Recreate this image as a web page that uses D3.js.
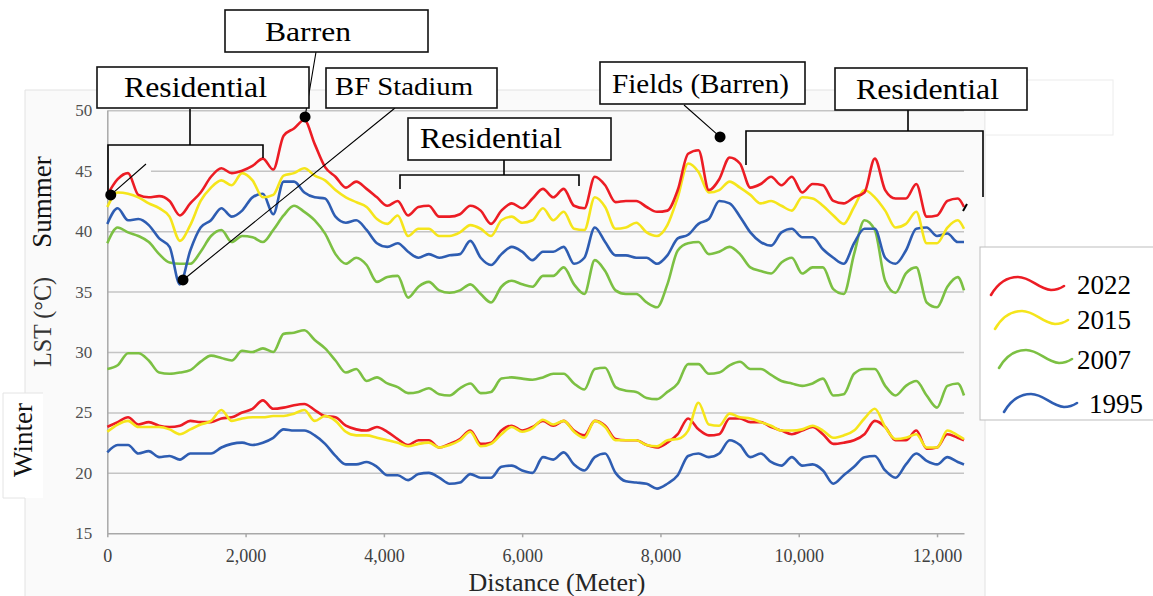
<!DOCTYPE html>
<html>
<head>
<meta charset="utf-8">
<script src="https://cdn.jsdelivr.net/npm/d3@7"></script>
<style>
  html, body { margin: 0; padding: 0; background: #ffffff; }
  svg { display: block; font-family: "Liberation Serif", "Times New Roman", serif; }
</style>
</head>
<body>
<svg id="chart" width="1153" height="596"></svg>
<script>
// Sample positions along the transect (metres)
const distance = d3.range(0, 12301, 150).concat([12390]);

// Summer land surface temperature (°C)
const summer2022 = [43.0,44.3,44.8,43.0,42.8,42.9,42.5,41.3,42.3,43.2,
  44.5,45.2,44.8,45.0,45.4,46.0,45.1,47.9,48.5,49.2,
  47.2,45.3,44.5,43.6,44.1,43.5,42.8,42.1,42.5,41.3,
  42.0,42.1,41.2,41.2,41.4,42.1,41.7,40.6,41.7,42.3,
  41.9,42.7,43.5,42.8,43.5,42.1,41.9,44.5,43.8,42.4,
  42.5,42.5,42.0,41.6,41.7,43.4,46.4,46.7,43.4,44.3,
  46.1,45.6,43.6,43.9,44.5,43.8,44.5,43.2,43.9,43.8,
  42.5,42.3,42.8,43.2,46.0,43.4,42.7,42.7,43.9,41.2,
  41.3,42.5,42.7,42.0];
const summer2015 = [42.0,43.2,43.1,42.8,42.3,41.9,41.2,39.2,40.5,42.5,
  43.6,44.2,43.8,44.8,44.2,42.8,43.0,44.6,44.8,45.2,
  44.6,44.2,43.4,42.8,42.4,42.0,41.0,40.6,41.3,39.6,
  40.2,40.2,39.6,39.6,39.9,40.5,40.2,39.6,40.9,41.2,
  40.7,40.9,41.9,40.9,41.6,40.2,40.1,42.8,42.0,40.2,
  40.3,40.7,39.9,39.6,40.5,42.8,45.6,44.9,43.2,43.4,
  44.1,43.6,43.0,42.3,42.5,42.1,41.7,42.8,42.7,42.1,
  41.3,40.6,42.0,43.4,42.8,41.7,40.3,40.6,41.6,39.0,
  39.0,40.3,40.9,40.2];
const summer2007 = [39.0,40.3,39.9,39.6,39.1,38.1,37.4,37.3,37.3,38.3,
  39.6,40.1,39.1,39.6,39.5,39.1,40.1,41.3,42.1,41.6,
  40.9,39.8,38.1,37.3,37.8,37.2,35.8,36.2,36.3,34.5,
  35.4,35.8,35.1,34.9,35.1,35.6,34.8,34.1,35.4,35.9,
  35.6,35.4,36.3,36.3,37.0,35.6,34.8,37.6,36.7,35.1,
  34.8,34.8,34.1,33.7,35.6,38.4,39.0,39.1,38.1,38.3,
  38.7,38.1,37.0,36.7,36.5,37.4,37.8,36.5,37.0,37.0,
  35.2,34.8,38.1,40.9,40.1,35.9,34.9,36.5,37.0,34.1,
  33.7,35.4,36.2,35.1];
const summer1995 = [40.6,41.9,40.9,41.0,40.5,39.4,38.7,35.6,38.4,40.3,
  40.9,41.9,41.2,41.7,42.8,43.1,41.4,44.1,44.1,43.2,
  42.8,42.7,41.2,40.7,40.9,40.1,39.0,38.7,39.0,38.3,
  37.8,38.1,37.8,38.0,38.1,39.2,37.8,37.2,38.1,38.7,
  38.3,37.6,38.3,38.3,38.7,37.3,37.8,40.3,39.1,38.0,
  38.0,37.8,37.8,37.3,38.0,39.4,39.7,40.6,41.0,42.5,
  42.3,41.2,39.9,39.1,38.8,39.9,40.2,39.5,39.5,38.5,
  37.8,37.3,39.0,40.2,40.2,37.8,37.3,38.4,40.2,40.3,
  39.6,39.8,39.1,39.1];

// Winter land surface temperature (°C)
const winter2022 = [23.8,24.2,24.6,24.0,24.2,23.9,23.8,23.9,24.3,24.2,
  24.2,24.5,24.6,25.0,25.3,26.0,25.3,25.4,25.6,25.7,
  25.2,24.7,24.6,23.9,23.6,23.5,23.8,23.4,22.8,22.3,
  22.7,22.7,22.1,22.4,22.8,23.5,22.4,22.5,23.5,23.9,
  23.5,23.8,24.3,23.9,24.3,23.5,23.1,24.3,23.9,22.8,
  22.7,22.7,22.3,22.1,22.5,23.2,24.5,23.6,23.1,23.2,
  24.5,24.5,24.2,24.2,23.8,23.5,23.2,23.5,23.8,23.2,
  22.4,22.5,22.7,23.2,24.3,23.8,22.7,22.7,23.5,22.0,
  22.1,23.2,22.9,22.7];
const winter2015 = [23.4,24.0,24.3,23.8,23.8,23.8,23.6,23.2,23.6,24.0,
  24.3,25.2,24.3,24.5,24.6,24.6,24.7,24.7,24.9,25.2,
  24.3,24.7,24.3,23.4,23.1,23.1,22.9,22.7,22.5,22.2,
  22.4,22.5,22.1,22.3,22.7,23.4,22.2,22.4,23.2,23.8,
  23.4,23.7,24.4,24.0,24.3,23.4,22.9,24.3,23.8,22.7,
  22.7,22.7,22.3,22.2,22.7,22.8,23.5,25.8,24.0,23.9,
  24.9,24.6,24.5,24.2,23.9,23.5,23.5,23.6,23.9,23.5,
  22.9,23.1,23.5,24.5,25.3,23.8,22.8,22.9,23.2,22.1,
  22.1,23.5,23.1,22.8];
const winter2007 = [28.6,28.9,29.9,29.9,29.3,28.3,28.2,28.3,28.5,29.2,
  29.7,29.5,29.3,30.1,30.0,30.3,30.0,31.5,31.6,31.8,
  31.0,30.3,29.3,28.3,28.6,27.6,27.9,27.4,27.1,26.6,
  26.7,27.0,26.5,26.4,27.0,27.4,26.6,26.7,27.8,27.9,
  27.8,27.7,27.9,28.2,28.2,27.4,26.9,28.6,28.7,27.1,
  26.8,26.7,26.2,26.1,26.7,27.4,29.0,29.0,28.2,28.3,
  28.9,29.2,28.6,28.6,28.1,27.6,27.4,27.2,27.4,27.8,
  26.4,26.5,28.2,28.6,28.6,27.2,26.4,27.2,27.6,26.4,
  25.4,27.2,27.4,26.4];
const winter1995 = [21.7,22.3,22.3,21.6,21.8,21.3,21.4,21.1,21.6,21.6,
  21.6,22.1,22.4,22.5,22.3,22.5,22.9,23.6,23.5,23.5,
  23.1,22.4,21.4,20.7,20.7,20.9,20.5,19.8,19.8,19.4,
  19.9,20.0,19.6,19.1,19.2,19.9,19.6,19.6,20.5,20.6,
  20.2,20.0,21.3,21.1,21.7,20.7,20.2,21.3,21.6,20.0,
  19.3,19.2,19.1,18.7,19.1,19.8,21.4,21.6,21.3,21.6,
  22.7,22.3,21.3,21.6,20.9,20.6,21.3,20.6,20.7,20.2,
  19.1,19.8,20.5,21.3,21.4,20.2,19.6,20.7,21.6,21.0,
  20.7,21.3,20.9,20.7];

const years = ["2022", "2015", "2007", "1995"];
const yTicks = [15, 20, 25, 30, 35, 40, 45, 50];
const xTicks = [0, 2000, 4000, 6000, 8000, 10000, 12000];

// ---- styling / layout ----
const colors = { "2022": "#ec1c24", "2015": "#f5e51b", "2007": "#7cc043", "1995": "#2e5db2" };
const svg = d3.select("#chart");
const x = d3.scaleLinear().domain([0, 12390]).range([107.3, 964]);
const y = d3.scaleLinear().domain([15, 50]).range([533.3, 110.3]);

// Background panels
svg.append("rect").attr("x", 25).attr("y", 90).attr("width", 960).attr("height", 520)
  .attr("fill", "#fafafa");
svg.append("path").attr("d", "M25,393 V90 H985 V600 M25,498 V600")
  .attr("fill", "none").attr("stroke", "#e2e2e2");
svg.append("rect").attr("x", 3).attr("y", 393).attr("width", 40).attr("height", 105).attr("fill", "#ffffff");
svg.append("path").attr("d", "M43,393 H3 V498 H25").attr("fill", "none").attr("stroke", "#e4e4e4");
svg.append("rect").attr("x", 985).attr("y", 80).attr("width", 128).attr("height", 55)
  .attr("fill", "#ffffff").attr("stroke", "#ececec");

// Gridlines
const grid = svg.append("g").attr("transform", `translate(${x.range()[0]},0)`)
  .call(d3.axisLeft(y).tickValues(yTicks.filter(t => t > 15)).tickSize(-(x.range()[1] - x.range()[0])).tickFormat(""));
grid.select(".domain").remove();
grid.selectAll(".tick line").attr("stroke", "#c4c4c4").attr("stroke-width", 1.5);

// Patch behind the left callout
svg.append("rect").attr("x", 109).attr("y", 160).attr("width", 42).attr("height", 20).attr("fill", "#fafafa");

// Axes
const xAxis = svg.append("g").attr("transform", `translate(0,${y(15)})`)
  .call(d3.axisBottom(x).tickValues(xTicks).tickFormat(d3.format(",")).tickSize(4).tickSizeOuter(0));
xAxis.select(".domain").attr("stroke", "#a8a8a8").attr("stroke-width", 1.5);
xAxis.selectAll(".tick line").attr("stroke", "#a8a8a8").attr("stroke-width", 1.5);
xAxis.selectAll(".tick text").attr("font-family", "Liberation Serif, serif").attr("font-size", 18)
  .attr("fill", "#404040").attr("dy", "1.2em");

const yAxis = svg.append("g").attr("transform", `translate(${x(0)},0)`)
  .call(d3.axisLeft(y).tickValues(yTicks).tickSize(0).tickPadding(15));
yAxis.select(".domain").attr("stroke", "#a8a8a8").attr("stroke-width", 1.5);
yAxis.selectAll(".tick text").attr("font-family", "Liberation Serif, serif").attr("font-size", 17)
  .attr("fill", "#505050");

// Axis titles
svg.append("text").attr("x", 557).attr("y", 591).attr("text-anchor", "middle")
  .attr("font-size", 26).attr("fill", "#262626").text("Distance (Meter)");
svg.append("text").attr("transform", "translate(42,322) rotate(-90)").attr("text-anchor", "middle")
  .attr("dominant-baseline", "central").attr("font-size", 25).attr("fill", "#333")
  .attr("textLength", 90).attr("lengthAdjust", "spacingAndGlyphs").text("LST (°C)");
svg.append("text").attr("transform", "translate(42,202) rotate(-90)").attr("text-anchor", "middle")
  .attr("dominant-baseline", "central").attr("font-size", 27).attr("fill", "#111").text("Summer");
svg.append("text").attr("transform", "translate(23,440) rotate(-90)").attr("text-anchor", "middle")
  .attr("dominant-baseline", "central").attr("font-size", 27).attr("fill", "#111").text("Winter");

// Temperature profiles
const series = [
  { year: "2007", values: summer2007 },
  { year: "1995", values: summer1995 },
  { year: "2015", values: summer2015 },
  { year: "2022", values: summer2022 },
  { year: "2007", values: winter2007 },
  { year: "1995", values: winter1995 },
  { year: "2022", values: winter2022 },
  { year: "2015", values: winter2015 }
];
const line = d3.line().curve(d3.curveMonotoneX).x((d, i) => x(distance[i])).y(d => y(d));
svg.append("g").selectAll("path").data(series).join("path")
  .attr("d", d => line(d.values))
  .attr("fill", "none")
  .attr("stroke", d => colors[d.year])
  .attr("stroke-width", 2.6)
  .attr("stroke-linejoin", "round");

// Callout leaders and brackets
const ann = svg.append("g").attr("fill", "none").attr("stroke", "#000");
ann.append("path").attr("stroke-width", 1.6).attr("d",
  "M190,109 V145 M108,196 V145 H263 V158" +
  " M504,160 V175 M400,189 V175 H579 V186" +
  " M908,110 V131 M746,165 V131 H983 V197");
ann.append("path").attr("stroke-width", 1.1).attr("d",
  `M${x(50)},${y(43.0)} L146,164` +
  ` M316,52 L${x(2860)},${y(49.45)}` +
  ` M395,108 L${x(1095)},${y(35.96)}` +
  ` M684,105 L${x(8862)},${y(47.8)}`);
ann.append("path").attr("stroke-width", 2).attr("d", "M963,211 L967,204");

// Callout markers
const markers = [[50, 43.0], [2860, 49.45], [1095, 35.96], [8862, 47.8]];
svg.append("g").selectAll("circle").data(markers).join("circle")
  .attr("cx", d => x(d[0])).attr("cy", d => y(d[1])).attr("r", 5.5).attr("fill", "#000");

// Land-cover label boxes
const labels = [
  { text: "Barren", bx: 225, by: 10, bw: 203, bh: 42, tx: 265, tw: 86, ty: 41, fs: 28 },
  { text: "Residential", bx: 97, by: 67, bw: 212, bh: 41, tx: 124, tw: 143, ty: 97, fs: 30 },
  { text: "BF Stadium", bx: 326, by: 68, bw: 171, bh: 40, tx: 335, tw: 138, ty: 95, fs: 25 },
  { text: "Residential", bx: 408, by: 118, bw: 203, bh: 42, tx: 420, tw: 142, ty: 148, fs: 30 },
  { text: "Fields (Barren)", bx: 600, by: 62, bw: 205, bh: 42, tx: 612, tw: 177, ty: 93, fs: 27 },
  { text: "Residential", bx: 835, by: 68, bw: 192, bh: 42, tx: 856, tw: 143, ty: 99, fs: 30 }
];
const lab = svg.append("g").selectAll("g").data(labels).join("g");
lab.append("rect").attr("x", d => d.bx).attr("y", d => d.by).attr("width", d => d.bw).attr("height", d => d.bh)
  .attr("fill", "#ffffff").attr("stroke", "#111").attr("stroke-width", 1.6);
lab.append("text").attr("x", d => d.tx).attr("y", d => d.ty).attr("font-size", d => d.fs)
  .attr("textLength", d => d.tw).attr("lengthAdjust", "spacingAndGlyphs")
  .attr("fill", "#000").text(d => d.text);

// Legend
const legend = svg.append("g");
legend.append("rect").attr("x", 980).attr("y", 247).attr("width", 190).attr("height", 173)
  .attr("fill", "#ffffff").attr("stroke", "#bdbdbd");
const legendPos = [
  { sx: 991, sy: 295, tx: 1077, ty: 294 },
  { sx: 995, sy: 329, tx: 1077, ty: 329 },
  { sx: 999, sy: 368, tx: 1077, ty: 369 },
  { sx: 1004, sy: 412, tx: 1089, ty: 413 }
];
const item = legend.selectAll("g").data(years).join("g");
item.append("path")
  .attr("transform", (d, i) => `translate(${legendPos[i].sx},${legendPos[i].sy})`)
  .attr("d", "M0,0 C7,-12 16,-18 27,-18 C40,-18 47,-6 60,-5 C66,-5 70,-7 73,-9")
  .attr("fill", "none").attr("stroke", d => colors[d]).attr("stroke-width", 2.6)
  .attr("stroke-linecap", "round");
item.append("text").attr("x", (d, i) => legendPos[i].tx).attr("y", (d, i) => legendPos[i].ty)
  .attr("font-size", 27).attr("fill", "#000").text(d => d);
</script>
</body>
</html>
